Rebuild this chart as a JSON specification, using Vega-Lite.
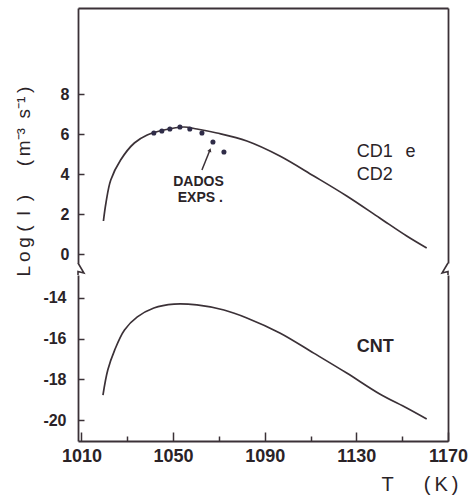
{
  "$schema": "https://vega.github.io/schema/vega-lite/v6.json",
  "background": "#ffffff",
  "padding": {"left": 14, "top": 8, "right": 4, "bottom": 2},
  "bounds": "flush",
  "spacing": 12,
  "config": {
    "view": {"stroke": null},
    "font": "Liberation Sans",
    "axis": {
      "grid": false,
      "domainColor": "#3b3137",
      "domainWidth": 1.8,
      "tickColor": "#3b3137",
      "tickWidth": 1.5,
      "labelColor": "#2a2327",
      "titleColor": "#2a2327",
      "labelFont": "Liberation Sans",
      "titleFont": "Liberation Sans"
    },
    "text": {"font": "Liberation Sans", "color": "#2a2327"}
  },
  "datasets": {
    "cd": [
      {"T": 1019.6, "logI": 1.65},
      {"T": 1020.7, "logI": 2.55},
      {"T": 1022.8, "logI": 3.7},
      {"T": 1027.1, "logI": 4.7},
      {"T": 1033.1, "logI": 5.55},
      {"T": 1038.7, "logI": 5.95},
      {"T": 1046.0, "logI": 6.2},
      {"T": 1054.73, "logI": 6.35},
      {"T": 1060.4, "logI": 6.25},
      {"T": 1069.12, "logI": 6.05},
      {"T": 1082.2, "logI": 5.65},
      {"T": 1096.6, "logI": 4.9},
      {"T": 1111.42, "logI": 3.9},
      {"T": 1125.8, "logI": 2.9},
      {"T": 1140.2, "logI": 1.8},
      {"T": 1151.98, "logI": 0.9},
      {"T": 1160.7, "logI": 0.3}
    ],
    "exp": [
      {"T": 1041.6, "logI": 6.05},
      {"T": 1045.1, "logI": 6.15},
      {"T": 1048.6, "logI": 6.25},
      {"T": 1053.0, "logI": 6.35},
      {"T": 1057.3, "logI": 6.25},
      {"T": 1062.6, "logI": 6.05},
      {"T": 1067.4, "logI": 5.6},
      {"T": 1072.2, "logI": 5.1}
    ],
    "cnt": [
      {"T": 1019.4, "logI": -18.77},
      {"T": 1021.5, "logI": -17.54},
      {"T": 1024.5, "logI": -16.56},
      {"T": 1028.8, "logI": -15.57},
      {"T": 1034.4, "logI": -14.93},
      {"T": 1041.6, "logI": -14.49},
      {"T": 1050.4, "logI": -14.3},
      {"T": 1060.4, "logI": -14.34},
      {"T": 1072.2, "logI": -14.59},
      {"T": 1082.2, "logI": -14.98},
      {"T": 1096.6, "logI": -15.72},
      {"T": 1111.4, "logI": -16.71},
      {"T": 1125.8, "logI": -17.69},
      {"T": 1140.2, "logI": -18.72},
      {"T": 1152.0, "logI": -19.41},
      {"T": 1160.7, "logI": -19.95}
    ],
    "quebra": [
      {"lado": "esq", "k": 0, "T": 1008.5, "logI": -12.28},
      {"lado": "esq", "k": 1, "T": 1011.1, "logI": -12.77},
      {"lado": "esq", "k": 2, "T": 1008.5, "logI": -12.7},
      {"lado": "esq", "k": 3, "T": 1008.5, "logI": -12.87},
      {"lado": "dir", "k": 0, "T": 1170, "logI": -12.28},
      {"lado": "dir", "k": 1, "T": 1167.4, "logI": -12.77},
      {"lado": "dir", "k": 2, "T": 1170, "logI": -12.7},
      {"lado": "dir", "k": 3, "T": 1170, "logI": -12.87}
    ]
  },
  "vconcat": [
    {
      "width": 370,
      "height": 255,
      "layer": [
        {
          "data": {"name": "cd"},
          "mark": {"type": "line", "interpolate": "catmull-rom", "color": "#3b3137", "strokeWidth": 1.7},
          "encoding": {
            "x": {
              "field": "T", "type": "quantitative",
              "scale": {"domain": [1008.5, 1170], "nice": false, "zero": false},
              "axis": {"orient": "top", "labels": false, "ticks": false, "title": null}
            },
            "y": {
              "field": "logI", "type": "quantitative",
              "scale": {"domain": [-0.45, 12.3], "nice": false, "zero": false},
              "axis": {
                "orient": "left",
                "values": [0, 2, 4, 6, 8],
                "tickSize": -6,
                "labelPadding": 15,
                "labelFontSize": 16,
                "labelFontWeight": "bold",
                "title": "L\u2009o\u2009g (\u2002I\u2002)\u2003\u2002(\u2009m⁻³\u2002s⁻¹\u2009)",
                "titleFontSize": 19,
                "titleFontWeight": "normal",
                "titleX": -55,
                "titleY": 173,
                "titleAlign": "center",
                "titleBaseline": "middle"
              }
            }
          }
        },
        {
          "data": {"name": "exp"},
          "mark": {"type": "point", "filled": true, "size": 26, "color": "#2f2c48", "opacity": 1},
          "encoding": {
            "x": {"field": "T", "type": "quantitative", "scale": {"domain": [1008.5, 1170], "nice": false, "zero": false}, "axis": null},
            "y": {
              "field": "logI", "type": "quantitative",
              "scale": {"domain": [-0.45, 12.3], "nice": false, "zero": false},
              "axis": {"orient": "right", "labels": false, "ticks": false, "title": null}
            }
          }
        },
        {
          "data": {"values": [{}]},
          "mark": {"type": "rule", "color": "#3b3137", "strokeWidth": 1.5},
          "encoding": {
            "x": {"datum": 1062.6, "type": "quantitative", "axis": null},
            "y": {"datum": 4.2, "type": "quantitative", "axis": null},
            "x2": {"datum": 1066.1},
            "y2": {"datum": 5.2}
          }
        },
        {
          "data": {"values": [{}]},
          "mark": {"type": "point", "shape": "triangle-up", "filled": true, "size": 18, "angle": 20, "color": "#3b3137", "opacity": 1},
          "encoding": {
            "x": {"datum": 1066.1, "type": "quantitative", "axis": null},
            "y": {"datum": 5.2, "type": "quantitative", "axis": null}
          }
        },
        {
          "data": {"values": [{}]},
          "mark": {"type": "text", "fontSize": 14, "fontWeight": "bold", "align": "center", "baseline": "middle"},
          "encoding": {
            "x": {"datum": 1061.1, "type": "quantitative", "axis": null},
            "y": {"datum": 3.6, "type": "quantitative", "axis": null},
            "text": {"value": "DADOS"}
          }
        },
        {
          "data": {"values": [{}]},
          "mark": {"type": "text", "fontSize": 14, "fontWeight": "bold", "align": "center", "baseline": "middle"},
          "encoding": {
            "x": {"datum": 1061.9, "type": "quantitative", "axis": null},
            "y": {"datum": 2.8, "type": "quantitative", "axis": null},
            "text": {"value": "EXPS ."}
          }
        },
        {
          "data": {"values": [{}]},
          "mark": {"type": "text", "fontSize": 18, "align": "left", "baseline": "middle"},
          "encoding": {
            "x": {"datum": 1130.2, "type": "quantitative", "axis": null},
            "y": {"datum": 5.1, "type": "quantitative", "axis": null},
            "text": {"value": "CD1\u2002\u2009e"}
          }
        },
        {
          "data": {"values": [{}]},
          "mark": {"type": "text", "fontSize": 18, "align": "left", "baseline": "middle"},
          "encoding": {
            "x": {"datum": 1130.2, "type": "quantitative", "axis": null},
            "y": {"datum": 3.95, "type": "quantitative", "axis": null},
            "text": {"value": "CD2"}
          }
        }
      ],
      "resolve": {"axis": {"x": "independent", "y": "independent"}}
    },
    {
      "width": 370,
      "height": 166,
      "layer": [
        {
          "data": {"name": "cnt"},
          "mark": {"type": "line", "interpolate": "catmull-rom", "color": "#3b3137", "strokeWidth": 1.7},
          "encoding": {
            "x": {
              "field": "T", "type": "quantitative",
              "scale": {"domain": [1008.5, 1170], "nice": false, "zero": false},
              "axis": {
                "orient": "bottom",
                "values": [1010, 1030, 1050, 1070, 1090, 1110, 1130, 1150, 1170],
                "format": "d",
                "labelExpr": "(datum.value - 1010) % 40 == 0 ? datum.label : ''",
                "tickSize": {"condition": {"test": "(datum.value - 1010) % 40 != 0", "value": -5}, "value": -9},
                "labelPadding": 15,
                "labelFontSize": 18,
                "labelFontWeight": "bold",
                "labelFlush": false,
                "title": "T\u2003\u2002(\u2009K\u2009)",
                "titleFontSize": 20,
                "titleFontWeight": "normal",
                "titleX": 380,
                "titleY": 43,
                "titleAlign": "right",
                "titleBaseline": "middle"
              }
            },
            "y": {
              "field": "logI", "type": "quantitative",
              "scale": {"domain": [-21.03, -12.87], "nice": false, "zero": false},
              "axis": {
                "orient": "left",
                "values": [-14, -16, -18, -20],
                "labelExpr": "'-' + abs(datum.value)",
                "tickSize": -6,
                "labelPadding": 18,
                "labelFontSize": 16,
                "labelFontWeight": "bold",
                "title": null
              }
            }
          }
        },
        {
          "data": {"name": "quebra"},
          "mark": {"type": "line", "color": "#3b3137", "strokeWidth": 1.6},
          "encoding": {
            "x": {"field": "T", "type": "quantitative", "scale": {"domain": [1008.5, 1170], "nice": false, "zero": false}, "axis": null},
            "y": {
              "field": "logI", "type": "quantitative",
              "scale": {"domain": [-21.03, -12.87], "nice": false, "zero": false},
              "axis": {"orient": "right", "labels": false, "ticks": false, "title": null}
            },
            "detail": {"field": "lado"},
            "order": {"field": "k", "type": "quantitative"}
          }
        },
        {
          "data": {"values": [{}]},
          "mark": {"type": "text", "fontSize": 18, "fontWeight": "bold", "align": "left", "baseline": "middle"},
          "encoding": {
            "x": {"datum": 1130.2, "type": "quantitative", "axis": null},
            "y": {"datum": -16.41, "type": "quantitative", "axis": null},
            "text": {"value": "CNT"}
          }
        }
      ],
      "resolve": {"axis": {"x": "independent", "y": "independent"}}
    }
  ]
}
